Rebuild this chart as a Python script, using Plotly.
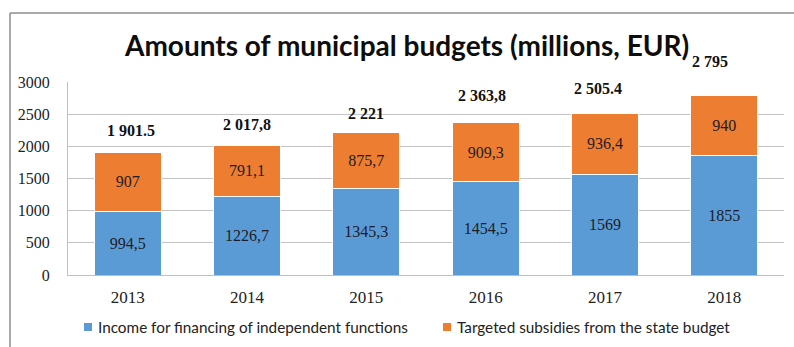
import plotly.graph_objects as go

# Municipal budget data (millions EUR)
years = ["2013", "2014", "2015", "2016", "2017", "2018"]
income_own = [994.5, 1226.7, 1345.3, 1454.5, 1569, 1855]
subsidies = [907, 791.1, 875.7, 909.3, 936.4, 940]
total_labels = ["1 901.5", "2 017,8", "2 221", "2 363,8", "2 505.4", "2 795"]
y_ticks = [0, 500, 1000, 1500, 2000, 2500, 3000]

series_names = [
    "Income for financing of independent functions",
    "Targeted subsidies from the state budget",
]
colors = ["#5B9BD5", "#ED7D31"]

W, H = 794, 347
ML, MR, MT, MB = 68, 10, 82, 72
PW, PH = W - ML - MR, H - MT - MB


def px_x(x):
    return (x - ML) / PW


def px_y(y):
    return (H - MB - y) / PH


def fmt(v):
    return f"{v:g}".replace(".", ",")


serif = "Liberation Serif, Times New Roman, serif"
sans = "Lato, Carlito, Calibri, sans-serif"

fig = go.Figure()
for name, vals, color in zip(series_names, [income_own, subsidies], colors):
    fig.add_trace(
        go.Bar(
            x=years,
            y=vals,
            name=name,
            marker=dict(color=color, line=dict(color="white", width=1)),
            text=[fmt(v) for v in vals],
            textposition="inside",
            insidetextanchor="middle",
            constraintext="none",
            textfont=dict(family=serif, size=16, color="#1c1c28"),
            hoverinfo="skip",
            showlegend=False,
        )
    )

# Totals above each stacked bar (x given as category index)
totals = [a + b for a, b in zip(income_own, subsidies)]
label_shift = [(3, 22), (0, 21), (0, 19), (-4, 27), (-7, 25), (-14, 34)]
for i, (tot, lbl, (dx, dy)) in enumerate(zip(totals, total_labels, label_shift)):
    fig.add_annotation(
        x=i, y=tot, text=f"<b>{lbl}</b>", showarrow=False,
        xshift=dx, yshift=dy, yanchor="middle",
        font=dict(family=serif, size=16, color="#111111"),
    )

# Chart title
fig.add_annotation(
    xref="paper", yref="paper", x=px_x(406), y=px_y(45),
    text="<b>Amounts of municipal budgets (millions, EUR)</b>",
    showarrow=False, xanchor="center", yanchor="middle",
    font=dict(family=sans, size=28, color="#0d0d0d"),
)

# Legend below the plot: small colour square followed by the series name
legend_pos = [84, 443]
for name, color, lx in zip(series_names, colors, legend_pos):
    fig.add_shape(type="rect", xref="paper", yref="paper",
                  x0=px_x(lx), x1=px_x(lx + 8), y0=px_y(323), y1=px_y(331),
                  fillcolor=color, line=dict(width=0))
    fig.add_annotation(
        xref="paper", yref="paper", x=px_x(lx + 12), y=px_y(327),
        text=name, showarrow=False, xanchor="left", yanchor="middle",
        font=dict(family=sans, size=15.3, color="#222222"),
    )

# Outer chart frame (left and top edges)
frame = dict(color="#8c8c8c", width=1.5)
fig.add_shape(type="line", xref="paper", yref="paper",
              x0=px_x(10), x1=px_x(10), y0=px_y(13), y1=px_y(360), line=frame)
fig.add_shape(type="line", xref="paper", yref="paper",
              x0=px_x(10), x1=px_x(800), y0=px_y(13), y1=px_y(13), line=frame)

fig.update_layout(
    barmode="stack",
    bargap=0.44,
    width=W, height=H,
    margin=dict(l=ML, r=MR, t=MT, b=MB),
    paper_bgcolor="white",
    plot_bgcolor="white",
    showlegend=False,
    xaxis=dict(
        type="category",
        range=[-0.5, len(years) - 0.5],
        showline=True, linecolor="#bfbfbf", linewidth=1,
        ticks="", ticklabelstandoff=7,
        tickfont=dict(family=serif, size=17, color="#222222"),
    ),
    yaxis=dict(
        range=[0, 3000], tickvals=y_ticks,
        showgrid=True, gridcolor="#c4c4c4", gridwidth=1,
        showline=True, linecolor="#bfbfbf", linewidth=1,
        zeroline=False, ticks="", ticklabelstandoff=14,
        tickfont=dict(family=serif, size=16, color="#222222"),
    ),
)

fig.write_html("out.html")
